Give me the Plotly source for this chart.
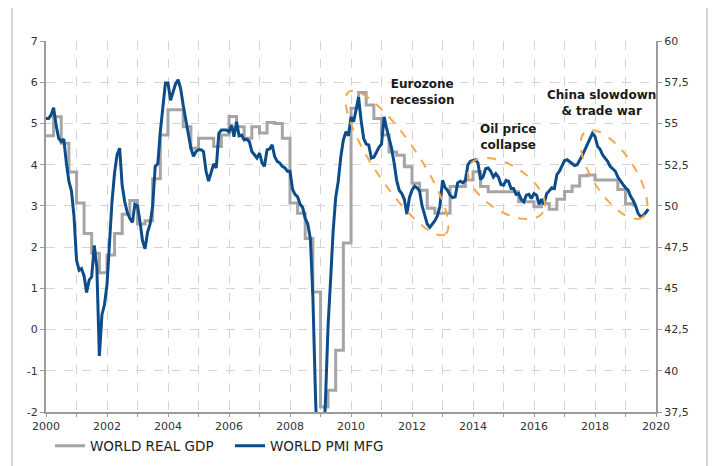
import math
import pandas as pd
import plotly.graph_objects as go

# ---------------- data ----------------
gdp_start = "2000-01-01"
# World real GDP, % y/y, quarterly (left axis)
gdp = [4.70, 5.16, 4.52, 3.82,
       3.07, 2.33, 1.85, 1.38,
       1.81, 2.33, 2.80, 3.13,
       2.56, 2.64, 3.66, 4.72,
       5.33, 5.33, 4.92, 4.40,
       4.64, 4.64, 4.44, 4.72,
       5.17, 4.92, 4.64, 4.92,
       4.77, 5.02, 5.00, 4.64,
       3.07, 2.82, 2.21, 0.91,
       -1.88, -1.47, -0.50, 2.10,
       5.37, 5.75, 5.45, 5.12,
       4.72, 4.31, 4.23, 3.95,
       3.55, 3.38, 2.94, 2.82,
       2.82, 3.47, 3.47, 3.63,
       3.83, 3.47, 3.34, 3.34,
       3.34, 3.34, 3.10, 3.10,
       2.98, 3.06, 2.92, 3.16,
       3.35, 3.48, 3.73, 3.75,
       3.63, 3.63, 3.63, 3.40,
       3.05, 3.02]

pmi_start = "2000-01-01"
# World manufacturing PMI, monthly (right axis)
pmi = [55.3, 55.3, 55.5, 55.95, 54.9, 54.1, 53.9, 54.05, 52.6, 51.5, 50.9, 49.4,   # 2000
       46.7, 46.1, 46.2, 45.75, 44.75, 45.5, 45.7, 47.6, 46.25, 40.9, 43.4, 44.0,  # 2001
       45.25, 48.25, 50.25, 52.0, 53.1, 53.5, 51.25, 50.25, 49.6, 49.25, 49.0, 50.1,  # 2002
       50.0, 49.0, 47.9, 47.4, 48.4, 48.9, 50.0, 52.4, 52.55, 54.5, 56.1, 57.45,   # 2003
       57.45, 56.4, 56.9, 57.4, 57.65, 57.1, 56.1, 55.25, 54.4, 53.5, 53.0, 53.3,  # 2004
       53.4, 53.4, 53.3, 52.1, 51.5, 52.0, 52.55, 52.3, 54.4, 54.6, 54.6, 54.6,    # 2005
       54.5, 54.9, 54.2, 55.1, 54.25, 54.3, 54.0, 54.05, 53.9, 53.3, 53.1, 52.9,   # 2006
       53.2, 52.6, 52.4, 53.4, 53.45, 53.7, 53.0, 52.7, 52.6, 52.4, 52.3, 52.1,    # 2007
       52.1, 51.0, 50.7, 50.55, 50.1, 49.9, 49.25, 48.9, 48.0, 44.5, 38.5, 34.0,   # 2008
       33.5, 35.0, 38.25, 42.75, 45.5, 48.5, 50.5, 51.5, 53.0, 54.0, 54.5, 54.25,  # 2009
       55.4, 55.1, 55.8, 56.6, 55.2, 54.1, 53.75, 53.7, 52.9, 52.95, 53.25, 53.55, # 2010
       53.75, 55.4, 54.75, 54.1, 53.5, 52.6, 51.55, 50.95, 50.75, 50.4, 49.5, 50.5, # 2011
       50.95, 51.2, 51.1, 50.9, 50.0, 49.45, 48.9, 48.7, 48.9, 49.1, 49.4, 50.0,   # 2012
       51.55, 51.1, 50.95, 50.65, 50.5, 50.55, 51.4, 51.5, 51.4, 51.55, 52.5, 52.7, # 2013
       52.75, 52.8, 52.6, 51.6, 51.75, 52.25, 52.3, 52.1, 51.75, 51.95, 51.75, 51.3, # 2014
       51.25, 51.55, 51.5, 51.05, 51.05, 50.7, 50.75, 50.4, 50.25, 50.65, 50.7, 50.45, # 2015
       50.75, 50.65, 50.1, 50.4, 50.1, 50.75, 50.9, 51.1, 51.05, 51.9, 52.1, 52.45, # 2016
       52.75, 52.8, 52.7, 52.55, 52.45, 52.5, 52.75, 53.05, 53.4, 53.75, 54.05, 54.4, # 2017
       54.2, 53.6, 53.45, 53.1, 52.9, 52.7, 52.4, 52.25, 52.1, 51.75, 51.5, 51.3,  # 2018
       51.1, 50.95, 50.6, 50.35, 50.0, 49.55, 49.35, 49.4, 49.6, 49.8]             # 2019

left_ticks = [-2, -1, 0, 1, 2, 3, 4, 5, 6, 7]
right_ticks = [37.5, 40, 42.5, 45, 47.5, 50, 52.5, 55, 57.5, 60]
x_range = ["2000-01-01", "2020-01-01"]

annotations_text = ["Eurozone<br>recession", "Oil price<br>collapse", "China slowdown<br>& trade war"]
legend_names = ["WORLD REAL GDP", "WORLD PMI MFG"]

# ---------------- styling / layout ----------------
OFF = 8                      # page body margin in the browser
W, H = 716 - OFF, 466 - OFF
# target plot area in window pixels: x 46..656, y 41..412
ML, MT = 46 - OFF, 41 - OFF
MR, MB = 716 - 656, 466 - 412
PW, PH = W - ML - MR, H - MT - MB

GRAY = "#a5a5a5"
BLUE = "#0d4c8b"
ORANGE = "#f5a94a"
GRID = "#d4d4d4"
AXIS = "#9b9b9b"
FONT = "DejaVu Sans"


def px_to_paper(px, py):
    """window pixel -> paper coordinates"""
    return (px - OFF - ML) / PW, (MT + PH - (py - OFF)) / PH


qdates = pd.date_range(gdp_start, periods=len(gdp), freq="QS")
gx = list(qdates) + [qdates[-1] + pd.Timedelta(days=45)]
gy = gdp + [gdp[-1]]
mdates = pd.date_range(pmi_start, periods=len(pmi), freq="MS")

fig = go.Figure()
fig.add_trace(go.Scatter(x=gx, y=gy, mode="lines", name=legend_names[0],
                         line=dict(color=GRAY, width=3, shape="hv"), yaxis="y"))
fig.add_trace(go.Scatter(x=mdates, y=pmi, mode="lines", name=legend_names[1],
                         line=dict(color=BLUE, width=3), yaxis="y2"))

shapes = []
# rotated dashed ellipses (window-pixel centre, semi-axes, angle)
ellipses = [(397, 163, 86, 22, 56), (506.5, 188.5, 43.6, 22.7, 33.2), (614, 174.5, 51.5, 21, 56.6)]
for cx, cy, a, b, ang in ellipses:
    th = math.radians(ang)
    pts = []
    for i in range(73):
        t = 2 * math.pi * i / 72
        ex, ey = a * math.cos(t), b * math.sin(t)
        px = cx + ex * math.cos(th) - ey * math.sin(th)
        py = cy + ex * math.sin(th) + ey * math.cos(th)
        pts.append(px_to_paper(px, py))
    path = "M " + " L ".join(f"{x:.5f},{y:.5f}" for x, y in pts) + " Z"
    shapes.append(dict(type="path", xref="paper", yref="paper", path=path,
                       line=dict(color=ORANGE, width=2, dash="dash"), layer="above"))

# outer light frame lines
for fx in (12, 707):
    x0, y0 = px_to_paper(fx, OFF)
    _, y1 = px_to_paper(fx, 466)
    shapes.append(dict(type="line", xref="paper", yref="paper", x0=x0, x1=x0, y0=y0, y1=y1,
                       line=dict(color="#d6d6d6", width=2)))

ann_pos = [(422, 92), (508, 137), (601, 103)]
annotations = []
for txt, (ax_, ay_) in zip(annotations_text, ann_pos):
    xp, yp = px_to_paper(ax_, ay_)
    annotations.append(dict(text=f"<b>{txt}</b>", x=xp, y=yp, xref="paper", yref="paper",
                            xanchor="center", yanchor="middle",
                            showarrow=False, align="center",
                            font=dict(family=FONT, size=12, color="#1a1a1a")))

# legend placed in container coordinates so it does not push margins
leg_x = (50 - OFF) / W
leg_y = 1 - (446 - OFF) / H

fig.update_layout(
    width=W, height=H,
    margin=dict(l=ML, r=MR, t=MT, b=MB, pad=0, autoexpand=False),
    paper_bgcolor="white", plot_bgcolor="white",
    separators=", ",
    font=dict(family=FONT, size=11, color="#333333"),
    showlegend=True,
    legend=dict(orientation="h", xref="container", yref="container", x=leg_x, y=leg_y,
                xanchor="left", yanchor="middle",
                font=dict(family=FONT, size=13.5, color="#222222"),
                entrywidth=135, entrywidthmode="pixels",
                itemwidth=30, tracegroupgap=0, bgcolor="rgba(0,0,0,0)"),
    xaxis=dict(type="date", range=x_range, dtick="M24", tick0="2000-01-01", tickformat="%Y",
               showgrid=True, gridcolor=GRID, griddash="dash", gridwidth=1,
               minor=dict(dtick="M12", showgrid=True, gridcolor=GRID, griddash="dash",
                          ticks="outside", ticklen=3, tickcolor=AXIS),
               showline=True, linecolor=AXIS, linewidth=2, ticks="outside", ticklen=3,
               tickcolor=AXIS, zeroline=False, tickfont=dict(size=11, color="#333333")),
    yaxis=dict(range=[-2, 7], tickvals=left_ticks, ticktext=[str(v) for v in left_ticks],
               showgrid=True, gridcolor=GRID, griddash="dash", gridwidth=1,
               showline=True, linecolor=AXIS, linewidth=2, ticks="outside", ticklen=4,
               tickcolor=AXIS, zeroline=False, tickfont=dict(size=11, color="#333333")),
    yaxis2=dict(range=[37.5, 60], overlaying="y", side="right", tickvals=right_ticks,
                ticktext=[(f"{v:g}").replace(".", ",") for v in right_ticks],
                showgrid=False, showline=True, linecolor=AXIS, linewidth=2, ticks="outside",
                ticklen=4, tickcolor=AXIS, zeroline=False, tickfont=dict(size=11, color="#333333")),
    shapes=shapes,
    annotations=annotations,
)

fig.write_html("out.html")
